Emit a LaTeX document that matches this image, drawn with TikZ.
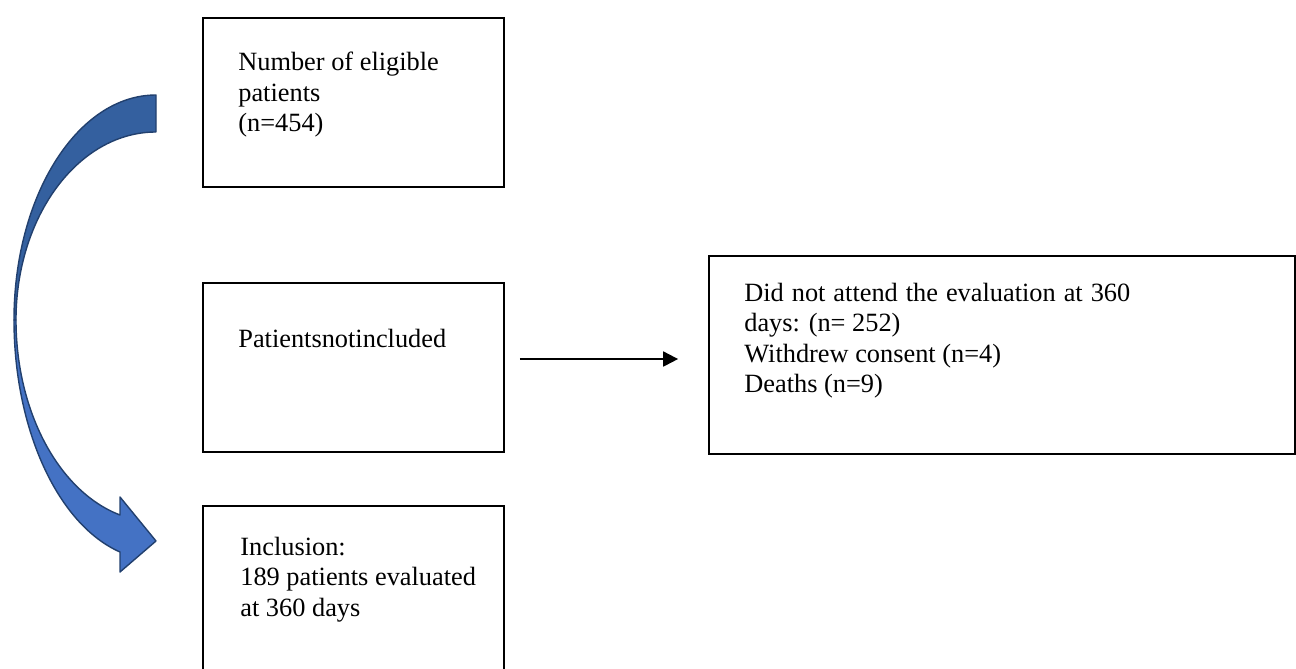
\documentclass[tikz,border=0pt]{standalone}
\usepackage{fontspec}
\setmainfont{Liberation Serif}
\usetikzlibrary{arrows.meta}
\pretolerance=9999
\tolerance=9999

\definecolor{arcdark}{HTML}{34609F}
\definecolor{arclight}{HTML}{4472C4}
\definecolor{arcedge}{HTML}{22406E}

\tikzset{
  flowbox/.style={draw, line width=1.1pt, anchor=north west, inner sep=0pt},
  boxtext/.style={anchor=north west, align=left, inner sep=0pt,
    font=\fontsize{15}{17.2}\selectfont},
  flow/.style={line width=1.1pt, -{Triangle[length=8.5pt,width=8.5pt]}},
  arcband/.style={draw=arcedge, line width=0.8pt, line join=round}
}

\begin{document}
\begin{tikzpicture}[x=0.02cm, y=-0.02cm]
        \clip (0,0) rectangle (1296,669);

        % boxes
        \node[flowbox, minimum width=6.02cm, minimum height=3.38cm] (elig) at (202,17) {};
        \node[flowbox, minimum width=6.02cm, minimum height=3.38cm] (notinc) at (202,282) {};
        \node[flowbox, minimum width=11.72cm, minimum height=3.96cm] (dropout) at (708,255) {};
        \node[flowbox, minimum width=6.02cm, minimum height=3.7cm] (incl) at (202,505) {};

        \node[boxtext] (eligtext) at ([shift={(36,35)}]elig.north west)
          {Number of eligible\\patients\\(n=454)};
        \node[boxtext] (notinctext) at ([shift={(36,47)}]notinc.north west)
          {Patientsnotincluded};
        \node[boxtext, text width=7.72cm, align=justify] (dropouttext) at ([shift={(36,28)}]dropout.north west)
          {Did not attend the evaluation at 360 days: (n= 252)\\
           Withdrew consent (n=4)\\
           Deaths (n=9)};
        \node[boxtext] (incltext) at ([shift={(38,32)}]incl.north west)
          {Inclusion:\\189 patients evaluated\\at 360 days};

        % arrow to the dropouts
        \coordinate (flowstart) at ([yshift=4.8pt]notinc.east);
        \draw[flow, shorten <=8.5pt, shorten >=17pt] (flowstart) -- (flowstart -| dropout.west);

        % curved arrow from eligible to inclusion
        \draw[arcband, fill=arcdark] (156,95) .. controls (77.6,95) and (14,195.7) .. (14,320)
          -- (16,320) .. controls (16,216) and (78.7,132) .. (156,132) -- cycle;
        \draw[arcband, fill=arclight] (14,320) .. controls (14,429) and (57.7,524.5) .. (120,552)
          -- (120,572) -- (156,541) -- (120,497) -- (120,515)
          .. controls (58.8,491.6) and (16,411.5) .. (16,320) -- cycle;
\end{tikzpicture}
\end{document}
